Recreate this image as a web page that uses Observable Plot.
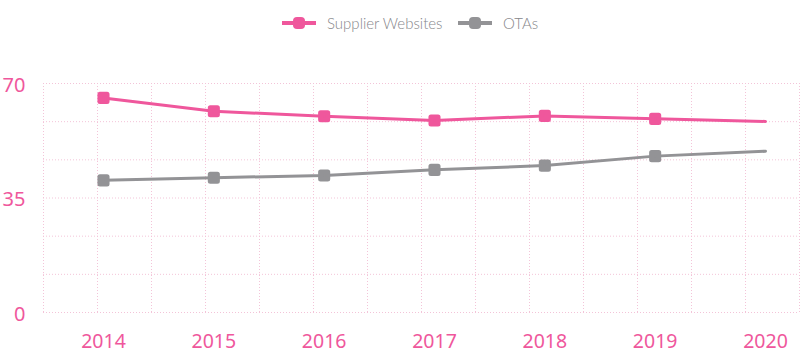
<!DOCTYPE html>
<html>
<head>
<meta charset="utf-8">
<script src="https://cdn.jsdelivr.net/npm/d3@7"></script>
<script src="https://cdn.jsdelivr.net/npm/@observablehq/plot@0.6"></script>
<style>
  html, body { margin: 0; padding: 0; background: #fff; width: 800px; height: 355px; overflow: hidden; }
  #legend { height: 46px; position: relative; font-family: Lato, "Open Sans", sans-serif; font-weight: 300; font-size: 15px; color: #86868a; }
  .item { position: absolute; top: 14px; display: flex; align-items: center; height: 18px; }
  .item svg { margin-right: 11px; }
  #chart svg { display: block; }
</style>
</head>
<body>
<div id="legend"></div>
<div id="chart"></div>
<script>
const years = [2014, 2015, 2016, 2017, 2018, 2019, 2020];
const supplierWebsites = [65.6, 61.5, 60.0, 58.7, 60.1, 59.2, 58.4];
const otas = [40.4, 41.2, 41.9, 43.6, 44.9, 47.8, 49.3];
const seriesNames = ["Supplier Websites", "OTAs"];
const yTicks = [0, 35, 70];

const PINK = "#ef579c";
const GRAY = "#939396";
const colors = [PINK, GRAY];

const data = [];
years.forEach((yr, i) => {
  data.push({year: yr, value: supplierWebsites[i], series: seriesNames[0]});
  data.push({year: yr, value: otas[i], series: seriesNames[1]});
});
const markerData = data.filter(d => d.year !== years[years.length - 1]);

// grid positions (visual only): vertical dotted grid every 54px across plot
const W = 800, H = 309;
const mLeft = 43, mRight = 1, mTop = 37, mBottom = 43;
const x0px = 103, x1px = 765;
const pxPerYear = (x1px - x0px) / (years.length - 1);
const vGrid = d3.range(15).map(i => years[0] + (mLeft + 54 * i - x0px) / pxPerYear);
const hGrid = d3.range(7).map(i => i * 70 / 6);

// Legend
const legend = document.getElementById("legend");
const legendPos = [282, 458];
seriesNames.forEach((name, i) => {
  const div = document.createElement("div");
  div.className = "item";
  div.style.left = legendPos[i] + "px";
  div.innerHTML = `<svg width="34" height="14"><line x1="0" x2="34" y1="7" y2="7" stroke="${colors[i]}" stroke-width="4"/><rect x="11" y="1" width="12" height="12" rx="4" fill="${colors[i]}"/></svg><span>${name}</span>`;
  legend.appendChild(div);
});

const chart = Plot.plot({
  width: W,
  height: H,
  marginLeft: mLeft,
  marginRight: mRight,
  marginTop: mTop,
  marginBottom: mBottom,
  style: {fontFamily: "'Noto Sans', sans-serif", background: "#fff", overflow: "visible"},
  x: {domain: [years[0], years[years.length - 1]], range: [x0px, x1px], label: null},
  y: {domain: [0, 70], label: null},
  color: {domain: seriesNames, range: colors},
  marks: [
    Plot.ruleY(hGrid, {y: d => d, x1: vGrid[0], x2: vGrid[vGrid.length - 1], stroke: "#f3c4d8", strokeWidth: 1, strokeDasharray: "1,2"}),
    Plot.ruleX(vGrid, {x: d => d, y1: 0, y2: 70, stroke: "#f3c4d8", strokeWidth: 1, strokeDasharray: "1,2"}),
    Plot.axisY(yTicks, {tickSize: 0, tickPadding: 18, fontSize: 20, fill: PINK, dy: 2, label: null}),
    Plot.axisX(years, {tickSize: 0, tickPadding: 22, fontSize: 19.5, fill: PINK, tickFormat: d => String(d), label: null}),
    Plot.line(data, {x: "year", y: "value", z: "series", stroke: "series", strokeWidth: 3}),
    Plot.dot(markerData, {x: "year", y: "value", fill: "series", stroke: "series", symbol: "square", r: 4, strokeWidth: 5, strokeLinejoin: "round"})
  ]
});
document.getElementById("chart").appendChild(chart);
</script>
</body>
</html>
